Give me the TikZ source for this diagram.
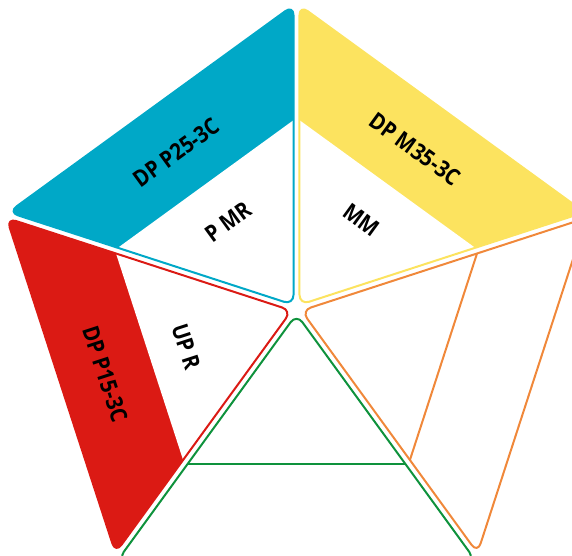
\documentclass[tikz,border=0pt]{standalone}
\usepackage{fontspec}
\newfontfamily\labfont{Open Sans}[FakeStretch=0.88]
\usetikzlibrary{calc}
\definecolor{cblue}{RGB}{0,168,199}
\definecolor{cyellow}{RGB}{252,227,95}
\definecolor{cred}{RGB}{219,26,20}
\definecolor{corange}{RGB}{240,136,58}
\definecolor{cgreen}{RGB}{14,146,60}
% #1,#2 angles of outer vertices, #3 prefix, #4 outer radius
\newcommand\petalpts[4]{%
  \coordinate (#3-a) at (#1:#4);
  \coordinate (#3-b) at (#2:#4);
  \coordinate (#3-p) at (#1:191);
  \coordinate (#3-q) at (#2:191);
  \coordinate (#3-C) at ({(#1+#2)/2}:5.1);
  \coordinate (#3-A) at ($(#3-a)!3.7pt!(#3-b)$);
  \coordinate (#3-B) at ($(#3-b)!3.7pt!(#3-a)$);
  \coordinate (#3-P) at ($(#3-p)!3.7pt!(#3-q)$);
  \coordinate (#3-Q) at ($(#3-q)!3.7pt!(#3-p)$);
}
\begin{document}
\begin{tikzpicture}[x=1pt,y=1pt,
  lab/.style={font=\labfont\bfseries\fontsize{23}{23}\selectfont, inner sep=0pt},
  petal/.style={rounded corners=10pt},
  edge/.style={line width=2pt, rounded corners=10pt, line join=round}]
\useasboundingbox (-296.5,-246) rectangle (275.5,309);
\clip (-296.5,-246) rectangle (275.5,309);
\petalpts{90}{162}{b}{306}
\petalpts{162}{234}{r}{306}
\petalpts{234}{306}{g}{310}
\petalpts{306}{378}{o}{306}
\petalpts{18}{90}{y}{306}
% fills
\fill[cblue, petal] (b-C) -- (b-A) -- (b-B) -- cycle;
\fill[white] (b-C) -- (b-P) -- (b-Q) -- cycle;
\fill[cred, petal] (r-C) -- (r-A) -- (r-B) -- cycle;
\fill[white] (r-C) -- (r-P) -- (r-Q) -- cycle;
\fill[cyellow, petal] (y-C) -- (y-A) -- (y-B) -- cycle;
\fill[white] (y-C) -- (y-P) -- (y-Q) -- cycle;
% outlines
\draw[cblue, edge] (b-C) -- (b-A) -- (b-B) -- cycle;
\draw[cred, edge] (r-C) -- (r-A) -- (r-B) -- cycle;
\draw[cyellow, edge] (y-C) -- (y-A) -- (y-B) -- cycle;
\draw[cgreen, edge] (g-C) -- (g-A) -- (g-B) -- cycle;
\draw[cgreen, line width=2pt] (g-P) -- (g-Q);
\draw[corange, edge] (o-C) -- (o-A) -- (o-B) -- cycle;
\draw[corange, line width=2pt] (o-P) -- (o-Q);
% labels
\node[lab, rotate=36] (t1) at (-120.5,156.5) {DP P25-3C};
\node[lab, rotate=36] (t2) at (-68.5,87) {P MR};
\node[lab, rotate=-36] (t3) at (118.5,160) {DP M35-3C};
\node[lab, rotate=-36] (t4) at (65.2,89) {MM};
\node[lab, rotate=-72] (t5) at (-191.5,-65) {DP P15-3C};
\node[lab, rotate=-72] (t6) at (-110.5,-37.7) {UP R};
\end{tikzpicture}
\end{document}
